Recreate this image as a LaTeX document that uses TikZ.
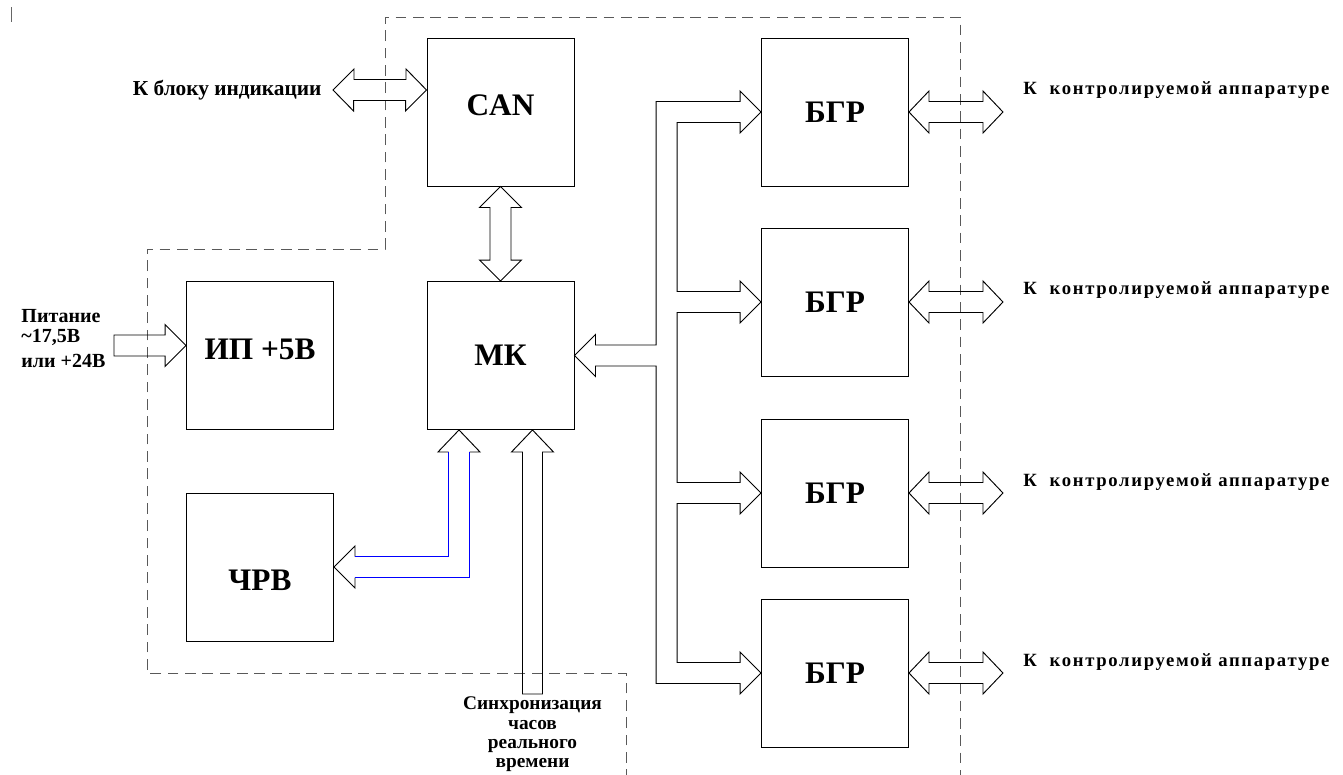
\documentclass[tikz,border=0pt]{standalone}
\usepackage{fontspec}
\setmainfont{Liberation Serif}[BoldFont={Liberation Serif Bold}]
\newfontfamily\widefont{Liberation Serif Bold}[LetterSpace=9]
\usetikzlibrary{calc}

\begin{document}
\begin{tikzpicture}[x=0.75pt, y=-0.75pt, line width=0.7pt,
        box/.style={draw, minimum width=110.25pt, minimum height=111pt, inner sep=0pt, font=\fontsize{23.5}{28}\selectfont\bfseries},
        lbl/.style={inner sep=0pt, font=\fontsize{16}{19}\selectfont\bfseries},
        blk/.style={draw, line join=miter},
        clkline/.style={draw=blue},
        frame/.style={draw=black!65, dash pattern=on 8pt off 5pt}]
    \useasboundingbox (0, 0) rectangle (1343, 775);
    \draw [frame] (626, 780) -- (626, 673) -- (147, 673) -- (147, 249) -- (385, 249) -- (385, 17) -- (960, 17) -- (960, 780);
    \draw [black!60] (11, 7) -- (11, 22);

    \node [box, text depth=10pt] (can) at (500.5, 112) {CAN};
    \node [box] (mk) at (500.5, 355.5) {МК};
    \node [box, text depth=10pt] (ip) at (260, 355.5) {ИП +5В};
    \node [box, text height=35pt] (chrv) at (260, 567) {ЧРВ};
    \foreach \i/\y/\t in {1/112/90, 2/302/290, 3/493/482, 4/673/662} {
        \node [box] (bgr\i) at (835, \y) {БГР};
        \node [lbl, anchor=west, font=\fontsize{14}{17}\widefont] (out\i) at (1023, \t) {К\ \ контролируемой аппаратуре};
        \draw [blk] (bgr\i.east) -- ++(20, -21) -- ++(0, 10.5) -- ++(54, 0) -- ++(0, -10.5) -- ++(20, 21) -- ++(-20, 21) -- ++(0, -10.5) -- ++(-54, 0) -- ++(0, 10.5) -- cycle;
    }

    \node [lbl, anchor=east] (ind) at (322, 90) {К блоку индикации};
    \draw [blk] ($(ind.east)+(11, 0)$) -- ++(21, -21) -- ++(0, 10.5) -- ++(52, 0) -- ++(0, -10.5) -- (can.west |- ind.east) -- ++(-21, 21) -- ++(0, -10.5) -- ++(-52, 0) -- ++(0, 10.5) -- cycle;

    \draw [blk] (can.south) -- ++(21, 21) -- ++(-10.5, 0) -- ($(mk.north)+(10.5, -21)$) -- ++(10.5, 0) -- (mk.north) -- ++(-21, -21) -- ++(10.5, 0) -- ($(can.south)+(-10.5, 21)$) -- ++(-10.5, 0) -- cycle;

    \draw [blk] (mk.east) -- ++(21, -21) -- ++(0, 10.5) -| ($(bgr1.west)+(-105, -10.5)$) -- ++(84, 0) -- ++(0, -10.5) -- (bgr1.west) -- ++(-21, 21) -- ++(0, -10.5) -- ++(-63, 0)
        |- ($(bgr2.west)+(-21, -10.5)$) -- ++(0, -10.5) -- (bgr2.west) -- ++(-21, 21) -- ++(0, -10.5) -- ++(-63, 0)
        |- ($(bgr3.west)+(-21, -10.5)$) -- ++(0, -10.5) -- (bgr3.west) -- ++(-21, 21) -- ++(0, -10.5) -- ++(-63, 0)
        |- ($(bgr4.west)+(-21, -10.5)$) -- ++(0, -10.5) -- (bgr4.west) -- ++(-21, 21) -- ++(0, -10.5) -- ++(-84, 0)
        |- ($(mk.east)+(21, 10.5)$) -- ++(0, 10.5) -- cycle;

    \node [lbl, anchor=north west, align=left, font=\fontsize{15}{15}\selectfont\bfseries] (pwrtxt) at (21, 309) {Питание\\\textasciitilde17,5В\\[3.5pt]или +24В};
    \coordinate (pwr) at (114, 345.5);
    \coordinate (ipin) at (ip.west |- pwr);
    \draw [blk] ($(pwr)+(0, -10.5)$) -- ($(ipin)+(-21, -10.5)$) -- ++(0, -10.5) -- (ipin) -- ++(-21, 21) -- ++(0, -10.5) -- ($(pwr)+(0, 10.5)$) -- cycle;

    \node [lbl, anchor=north, align=center, inner ysep=2pt, font=\fontsize{14.5}{14.3}\selectfont\bfseries] (sync) at (532.5, 694) {Синхронизация\\часов\\реального\\времени};
    \coordinate (mkin) at (mk.south -| sync.north);
    \draw [blk] ($(sync.north)+(-10, 0)$) -- ($(mkin)+(-10, 22)$) -- ++(-11, 0) -- (mkin) -- ++(21, 22) -- ++(-11, 0) -- ($(sync.north)+(10, 0)$) -- cycle;

    \coordinate (chin) at ($(mk.south)+(-41.5, 0)$);
    \draw [blk] (chin) ++(-10.5, 22) -- ++(-10.5, 0) -- (chin) -- ++(21, 22) -- ++(-10.5, 0);
    \draw [blk] (chrv.east) ++(21, -10.5) -- ++(0, -10.5) -- (chrv.east) -- ++(21, 21) -- ++(0, -10.5);
    \draw [clkline] ($(chin)+(10.5, 22)$) |- ($(chrv.east)+(21, 10.5)$);
    \draw [clkline] ($(chrv.east)+(21, -10.5)$) -| ($(chin)+(-10.5, 22)$);
\end{tikzpicture}
\end{document}
